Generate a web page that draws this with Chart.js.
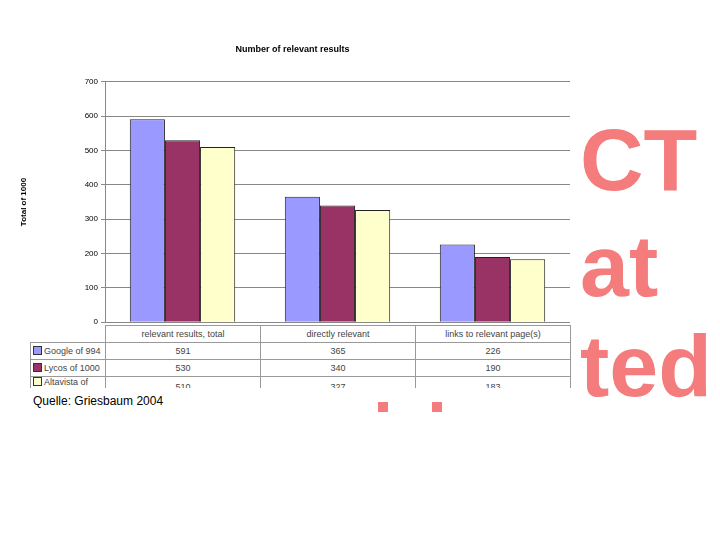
<!DOCTYPE html><html><head><meta charset="utf-8">
<script src="https://cdn.jsdelivr.net/npm/chart.js@4/dist/chart.umd.min.js"></script>
<style>
body{margin:0;width:720px;height:540px;background:#fff;position:relative;overflow:hidden;font-family:"Liberation Sans",Arial,sans-serif}
.red{position:absolute;color:#f47c7c;font-weight:bold;font-size:88px;line-height:1;z-index:0}
#wrap{position:absolute;left:15px;top:38px;width:555px;height:292px;background:#fff;z-index:1}
#tw{position:absolute;left:30px;top:325px;width:541px;height:63px;overflow:hidden;z-index:2;background:#fff}
table{border-collapse:collapse;font-size:9px;color:#444}
td{border:1px solid #999;height:16px;padding:0;text-align:center}
td.l{text-align:left;width:72px;padding-left:2px}
.sw{display:inline-block;width:7px;height:7px;border:1px solid #333;margin-right:2px;vertical-align:-1px}
</style></head><body>
<div class="red" style="left:580px;top:116px">CT</div>
<div class="red" style="left:580px;top:222px">at</div>
<div class="red" style="left:580px;top:322px">ted</div>
<div style="position:absolute;left:378px;top:402px;width:10px;height:10px;background:#f47c7c"></div>
<div style="position:absolute;left:432px;top:402px;width:10px;height:10px;background:#f47c7c"></div>
<div id="wrap"><canvas id="c" width="555" height="292"></canvas></div>
<div id="tw"><table id="t"></table></div>
<div style="position:absolute;left:33px;top:394px;font-size:12px;color:#000;z-index:3">Quelle: Griesbaum 2004</div>
<script>
const categories=["relevant results, total","directly relevant","links to relevant page(s)"];
const seriesNames=["Google of 994","Lycos of 1000","Altavista of 985"];
const google=[591,365,226];
const lycos=[530,340,190];
const altavista=[510,327,183];
const colors=["#9999ff","#993366","#ffffcc"];
const all=[google,lycos,altavista];
const t=document.getElementById('t');
let h='<tr><td class="l" style="border:none;border-right:1px solid #999"></td>'+categories.map(c=>'<td style="width:154px">'+c+'</td>').join('')+'</tr>';
all.forEach((s,i)=>{h+='<tr><td class="l"><span class="sw" style="background:'+colors[i]+'"></span>'+seriesNames[i]+'</td>'+s.map(v=>'<td>'+v+'</td>').join('')+'</tr>';});
t.innerHTML=h;
new Chart(document.getElementById('c'),{type:'bar',
data:{labels:categories,datasets:all.map((s,i)=>({label:seriesNames[i],data:s,backgroundColor:colors[i],borderColor:'#222',borderWidth:1,categoryPercentage:0.68,barPercentage:1}))},
options:{responsive:false,animation:false,layout:{padding:{top:0,right:0,left:0,bottom:0}},
plugins:{legend:{display:false},title:{display:true,text:'Number of relevant results',font:{size:9,weight:'bold'},color:'#000',padding:{top:6,bottom:27}}},
scales:{x:{ticks:{display:false},grid:{display:false},border:{color:'#888'},afterFit:a=>{a.height=5}},
y:{min:0,max:700,ticks:{stepSize:100,font:{size:8},color:'#000'},grid:{color:'#888',drawTicks:true,tickLength:4},border:{color:'#888'},
title:{display:true,text:'Total of 1000',font:{size:8,weight:'bold'},color:'#000'},afterFit:a=>{a.width=90}}}}});
</script></body></html>
